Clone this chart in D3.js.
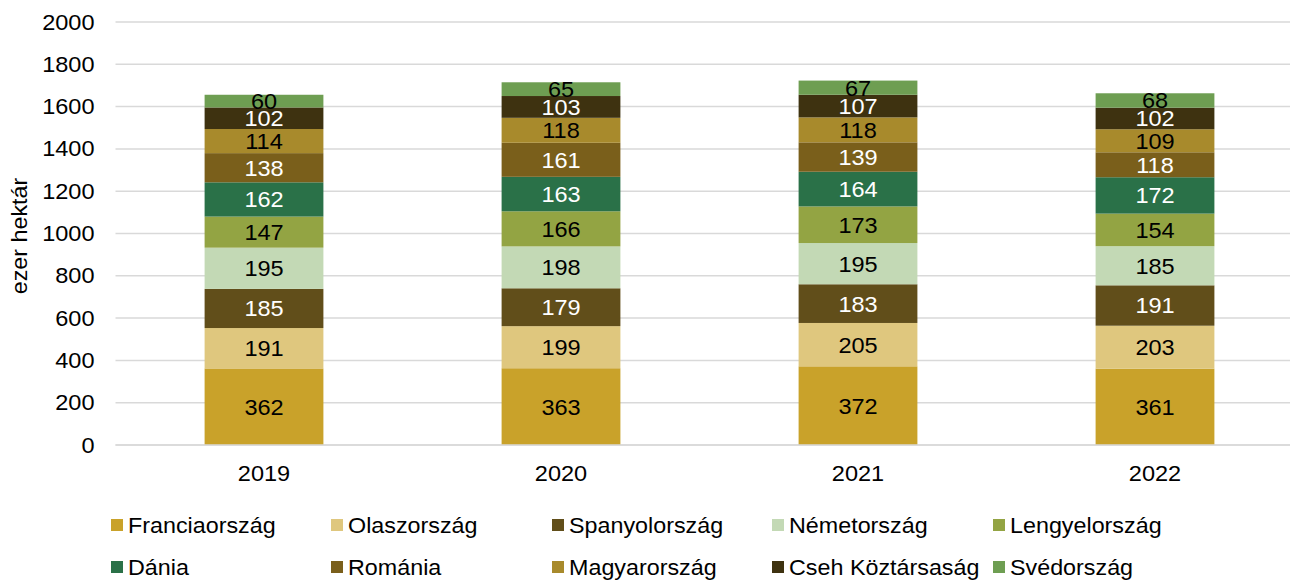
<!DOCTYPE html>
<html>
<head>
<meta charset="utf-8">
<script src="https://cdn.jsdelivr.net/npm/d3@7"></script>
<style>
  body { margin: 0; background: #fff; }
  text { font-family: "Liberation Sans", Arial, sans-serif; }
</style>
</head>
<body>
<svg width="1296" height="580"></svg>
<script>
// Data
const years = ['2019', '2020', '2021', '2022'];
const countries = ['Franciaország', 'Olaszország', 'Spanyolország', 'Németország', 'Lengyelország',
                   'Dánia', 'Románia', 'Magyarország', 'Cseh Köztársaság', 'Svédország'];
const franciaorszag = [362, 363, 372, 361];
const olaszorszag = [191, 199, 205, 203];
const spanyolorszag = [185, 179, 183, 191];
const nemetorszag = [195, 198, 195, 185];
const lengyelorszag = [147, 166, 173, 154];
const dania = [162, 163, 164, 172];
const romania = [138, 161, 139, 118];
const magyarorszag = [114, 118, 118, 109];
const cseh = [102, 103, 107, 102];
const svedorszag = [60, 65, 67, 68];
const yTicks = [0, 200, 400, 600, 800, 1000, 1200, 1400, 1600, 1800, 2000];

const seriesValues = [franciaorszag, olaszorszag, spanyolorszag, nemetorszag, lengyelorszag,
                      dania, romania, magyarorszag, cseh, svedorszag];
const colors = ['#C9A22A', '#DFC77E', '#614E1A', '#C3D9B5', '#93A443',
                '#2A7148', '#7A5F1B', '#A88A2C', '#3E3210', '#6E9E52'];
const labelColors = ['#000', '#000', '#fff', '#000', '#000', '#fff', '#fff', '#000', '#fff', '#000'];

// build table for the stack
const table = years.map((yr, i) => {
  const row = { year: yr };
  countries.forEach((c, j) => { row[c] = seriesValues[j][i]; });
  return row;
});
const stacked = d3.stack().keys(countries)(table);

const svg = d3.select('svg');
const plotLeft = 115.5, plotRight = 1303.5, plotTop = 22, plotBottom = 445;
const stretch = 1.07; // reference font renders a bit wider

const x = d3.scaleBand().domain(years).range([plotLeft, plotRight]).paddingInner(0.6).paddingOuter(0.3);
const y = d3.scaleLinear().domain([0, 2000]).range([plotBottom, plotTop]);

// gridlines
svg.append('g')
  .selectAll('line')
  .data(yTicks)
  .join('line')
  .attr('x1', plotLeft).attr('x2', 1290)
  .attr('y1', d => y(d)).attr('y2', d => y(d))
  .attr('stroke', '#d9d9d9').attr('stroke-width', 1.5);

// y axis labels
const yAxis = svg.append('g')
  .attr('transform', `translate(${plotLeft - 21},0)`)
  .call(d3.axisLeft(y).tickValues(yTicks).tickFormat(d3.format('d')).tickSize(0).tickPadding(0));
yAxis.select('.domain').remove();
yAxis.selectAll('text').attr('font-size', 22).attr('fill', '#000')
  .attr('font-family', '"Liberation Sans", Arial, sans-serif')
  .attr('transform', `scale(${stretch},1)`);

// y title
svg.append('text')
  .attr('transform', `translate(27,236) rotate(-90) scale(1.06,1)`)
  .attr('text-anchor', 'middle')
  .attr('font-size', 22)
  .text('ezer hektár');

// bars
const layers = svg.append('g').selectAll('g')
  .data(stacked)
  .join('g')
  .attr('fill', (d, i) => colors[i]);

layers.selectAll('rect')
  .data(d => d)
  .join('rect')
  .attr('x', d => x(d.data.year))
  .attr('y', d => y(d[1]))
  .attr('width', x.bandwidth())
  .attr('height', d => y(d[0]) - y(d[1]));

// value labels
svg.append('g').selectAll('g')
  .data(stacked)
  .join('g')
  .attr('fill', (d, i) => labelColors[i])
  .selectAll('text')
  .data(d => d)
  .join('text')
  .attr('transform', d => `translate(${x(d.data.year) + x.bandwidth() / 2},${(y(d[0]) + y(d[1])) / 2}) scale(${stretch},1)`)
  .attr('dy', '0.36em')
  .attr('text-anchor', 'middle')
  .attr('font-size', 22)
  .text(d => d[1] - d[0]);

// x axis
const xAxis = svg.append('g')
  .attr('transform', `translate(0,${plotBottom})`)
  .call(d3.axisBottom(x).tickSize(0).tickPadding(20));
xAxis.select('.domain').attr('stroke', '#d9d9d9').attr('stroke-width', 1.5)
  .attr('d', `M${plotLeft},0H1290`);
xAxis.selectAll('text').attr('font-size', 22).attr('fill', '#000')
  .attr('font-family', '"Liberation Sans", Arial, sans-serif')
  .attr('transform', `scale(${stretch},1)`);

// legend
const legendCols = [111, 331, 552, 772, 993];
const legendRows = [525, 567];
const legend = svg.append('g').selectAll('g')
  .data(countries)
  .join('g')
  .attr('transform', (d, i) => `translate(${legendCols[i % 5]},${legendRows[Math.floor(i / 5)]})`);
legend.append('rect')
  .attr('x', 0).attr('y', -6).attr('width', 12).attr('height', 12)
  .attr('fill', (d, i) => colors[i]);
legend.append('text')
  .attr('transform', 'translate(17,0) scale(1.06,1)')
  .attr('dy', '0.36em')
  .attr('font-size', 22)
  .text(d => d);
</script>
</body>
</html>
